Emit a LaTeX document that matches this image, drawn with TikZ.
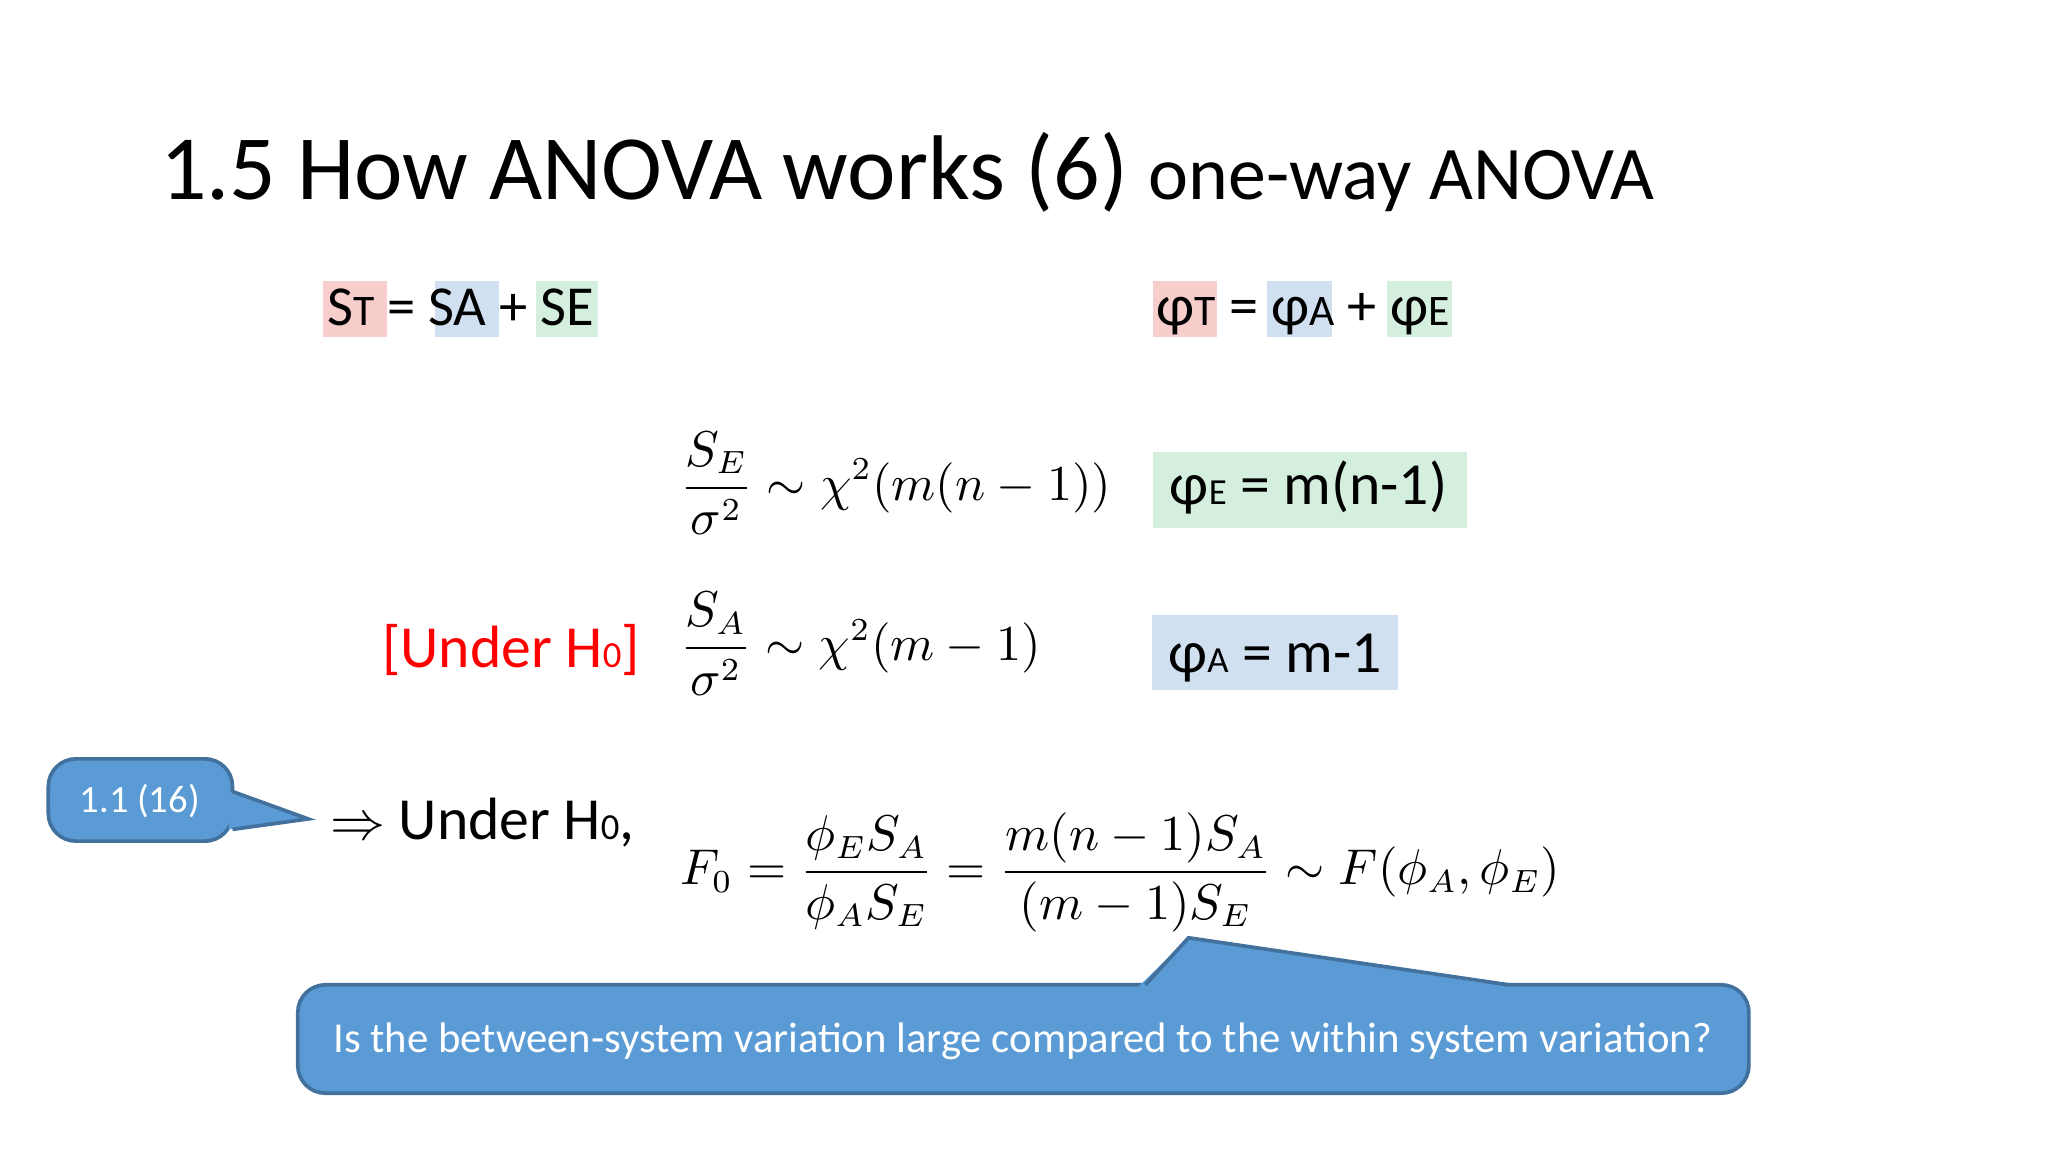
\documentclass[tikz,border=0pt]{standalone}
\usepackage{amsmath}
\usepackage{fontspec}
\setmainfont{Carlito}
\definecolor{pk}{HTML}{F8CECC}
\definecolor{bl}{HTML}{D0E0F0}
\definecolor{gr}{HTML}{D5EFDF}
\definecolor{cf}{HTML}{5B9BD5}
\definecolor{cb}{HTML}{41719C}
\tikzset{
 call/.style={fill=cf,draw=cb,line width=0.8pt,rounded corners=6pt},
 eq/.style={font=\fontsize{10.5}{13}\selectfont,inner sep=0pt},
 big/.style={font=\fontsize{13}{16}\selectfont,inner sep=0pt}
}
\newcommand{\sm}[1]{{\fontsize{8}{10}\selectfont #1}}
\newcommand{\smb}[1]{{\fontsize{9.5}{10}\selectfont #1}}
\begin{document}
\begin{tikzpicture}[x=0.01cm,y=-0.01cm]
\useasboundingbox (0,0) rectangle (1568,882);
\node[anchor=base west,inner sep=0pt] (title) at (122,153)
 {\fontsize{20}{24}\selectfont 1.5 How ANOVA works (6) {\fontsize{16.5}{20}\selectfont one-way ANOVA}};
% ST row
\fill[pk] (247,215) rectangle (296,258);
\fill[bl] (333,215) rectangle (382,258);
\fill[gr] (410,215) rectangle (458,258);
\node[anchor=base west,inner sep=0pt,font=\fontsize{12.3}{14}\selectfont] (st) at (250,249) {S\smb{T} = SA + SE};
\fill[pk] (883,215) rectangle (932,258);
\fill[bl] (970,215) rectangle (1020,258);
\fill[gr] (1062,215) rectangle (1112,258);
\node[anchor=base west,inner sep=0pt,font=\fontsize{12.7}{14}\selectfont] (ph) at (885,249) {φ\smb{T} = φ\smb{A} + φ\smb{E}};
% equations
\node[eq,anchor=west] (e1) at (520,370) {$\displaystyle \frac{S_E}{\sigma^2}\sim\chi^2(m(n-1))$};
\fill[gr] (883,346) rectangle (1123,404);
\node[big,anchor=base west] (b1) at (895,386) {φ\sm{E} = m(n-1)};
\node[big,anchor=base west,text=red] (uh) at (292,511) {[Under H\sm{0}]};
\node[eq,anchor=west] (e2) at (520,493) {$\displaystyle \frac{S_A}{\sigma^2}\sim\chi^2(m-1)$};
\fill[bl] (882,471) rectangle (1070,528);
\node[big,anchor=base west] (b2) at (894,515) {φ\sm{A} = m-1};
% callout small
\draw[call] (37,581) rectangle (178,644);
\path[fill=cf] (175,606) -- (236,627) -- (175,635) -- cycle;
\draw[cb,line width=0.8pt] (178,606) -- (236,627) -- (178,635);
\node[text=white,font=\fontsize{8.4}{10}\selectfont] (c1) at (107,613) {1.1 (16)};
\node[big,anchor=base west] (un) at (252,643) {$\Rightarrow$ Under H\sm{0},};
\node[eq,anchor=west] (f0) at (520,668) {$\displaystyle F_0=\frac{\phi_E S_A}{\phi_A S_E}=\frac{m(n-1)S_A}{(m-1)S_E}\sim F(\phi_A,\phi_E)$};
% big callout
\draw[call] (228,754) rectangle (1339,837);
\path[fill=cf] (870,757) -- (910,718) -- (1165,757) -- cycle;
\draw[cb,line width=0.8pt] (877,754) -- (910,718) -- (1155,754);
\node[text=white,font=\fontsize{9.3}{11}\selectfont] (c2) at (783,797) {Is the between-system variation large compared to the within system variation?};
\end{tikzpicture}
\end{document}
